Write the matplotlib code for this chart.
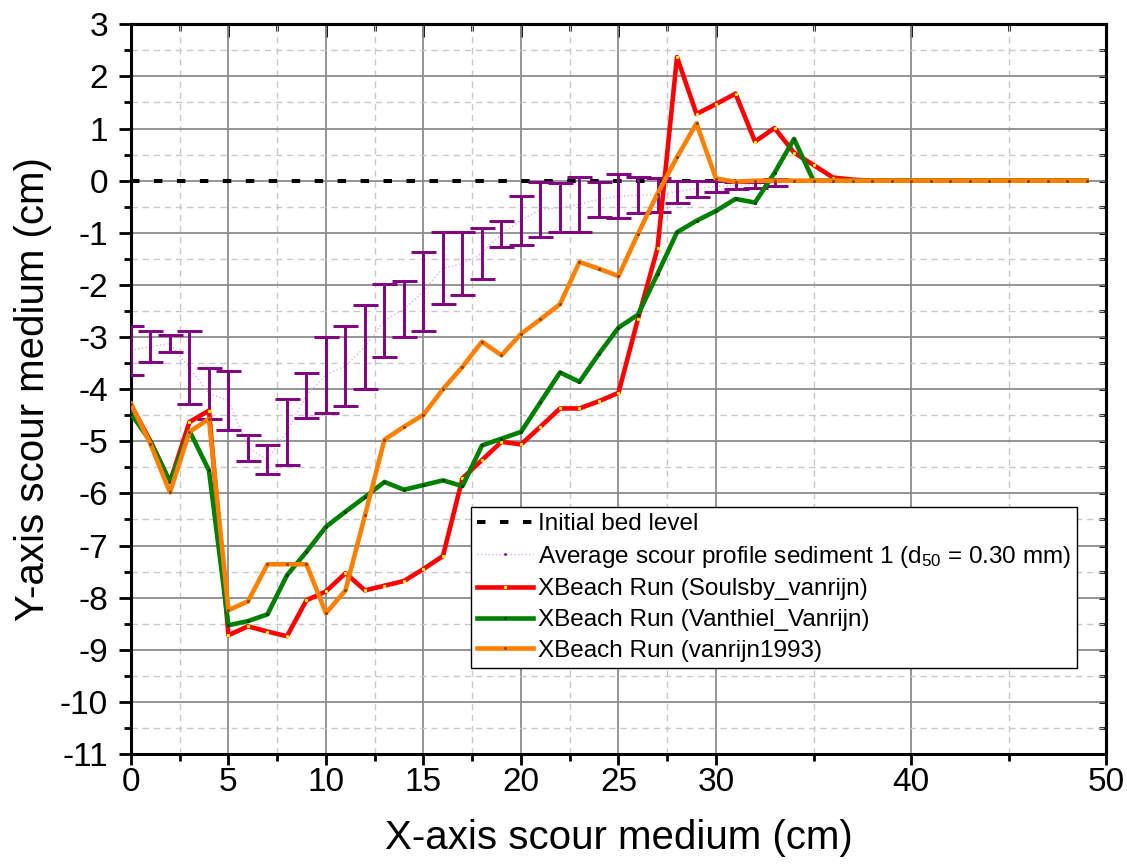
import matplotlib
matplotlib.use("Agg")
import matplotlib.pyplot as plt
from matplotlib.ticker import FixedLocator, MultipleLocator

plt.rcParams["font.family"] = ["Liberation Sans", "DejaVu Sans"]
plt.rcParams["mathtext.fontset"] = "custom"
plt.rcParams["mathtext.rm"] = "Liberation Sans"
plt.rcParams["mathtext.it"] = "Liberation Sans:italic"
plt.rcParams["axes.unicode_minus"] = False

# model grid (cm)
x_model = list(range(50))
bed_level = [0.0] * 50

soulsby_vanrijn = [-4.30, -5.00, -5.78, -4.63, -4.41, -8.72, -8.55, -8.65, -8.74, -8.05,
                   -7.88, -7.53, -7.86, -7.77, -7.68, -7.45, -7.20, -5.71, -5.36, -5.01,
                   -5.06, -4.72, -4.37, -4.37, -4.23, -4.07, -2.65, -1.30, 2.37, 1.28,
                   1.47, 1.67, 0.75, 1.01, 0.54, 0.30, 0.06, 0.02, 0.0, 0.0,
                   0.0, 0.0, 0.0, 0.0, 0.0, 0.0, 0.0, 0.0, 0.0, 0.0]
vanthiel_vanrijn = [-4.47, -5.00, -5.78, -4.80, -5.56, -8.53, -8.45, -8.32, -7.57, -7.12,
                    -6.64, -6.35, -6.07, -5.78, -5.93, -5.84, -5.75, -5.86, -5.08, -4.95,
                    -4.82, -4.25, -3.68, -3.86, -3.32, -2.82, -2.57, -1.79, -0.99, -0.77,
                    -0.58, -0.35, -0.42, 0.15, 0.80, 0.0, 0.0, 0.0, 0.0, 0.0,
                    0.0, 0.0, 0.0, 0.0, 0.0, 0.0, 0.0, 0.0, 0.0, 0.0]
vanrijn1993 = [-4.28, -5.05, -5.98, -4.82, -4.57, -8.24, -8.07, -7.36, -7.36, -7.36,
               -8.30, -7.86, -6.42, -4.97, -4.72, -4.49, -4.00, -3.57, -3.09, -3.35,
               -2.94, -2.66, -2.37, -1.56, -1.69, -1.83, -1.02, -0.25, 0.45, 1.10,
               0.04, -0.02, 0.0, 0.0, 0.0, 0.0, 0.0, 0.0, 0.0, 0.0,
               0.0, 0.0, 0.0, 0.0, 0.0, 0.0, 0.0, 0.0, 0.0, 0.0]

# measured profile, sediment 1: mean and half spread
x_meas = list(range(34))
meas_avg = [-3.25, -3.185, -3.125, -3.59, -4.085, -4.215, -5.125, -5.35, -4.815, -4.12,
            -3.725, -3.555, -3.19, -2.685, -2.465, -2.125, -1.675, -1.59, -1.395, -1.025,
            -0.76, -0.55, -0.52, -0.45, -0.36, -0.30, -0.275, -0.275, -0.21, -0.155,
            -0.11, -0.09, -0.08, -0.035]
meas_err = [0.47, 0.295, 0.165, 0.70, 0.495, 0.565, 0.255, 0.27, 0.635, 0.43,
            0.735, 0.765, 0.80, 0.695, 0.535, 0.765, 0.685, 0.60, 0.485, 0.255,
            0.47, 0.53, 0.47, 0.53, 0.33, 0.42, 0.345, 0.325, 0.21, 0.155,
            0.11, 0.07, 0.06, 0.065]

x_major = [0, 5, 10, 15, 20, 25, 30, 40, 50]
x_minor = [2.5, 7.5, 12.5, 17.5, 22.5, 27.5, 35, 45]

fig = plt.figure(figsize=(11.27, 8.65), dpi=100)
ax = fig.add_axes([0.1162, 0.1283, 0.8652, 0.8436])

ax.plot(x_model, bed_level, color="black", lw=2.9, ls=(0, (2.1, 3.6)),
        label="Initial bed level", zorder=3)
ax.plot(x_meas, meas_avg, color="#dcb0dc", lw=1.0, ls=":", marker="o", ms=1.0,
        mfc="#800080", mec="#800080", label="Average scour profile sediment 1 (d$_{50}$ = 0.30 mm)",
        zorder=3)
ax.errorbar(x_meas, meas_avg, yerr=meas_err, fmt="none", ecolor="#800080",
            elinewidth=2.1, capsize=9, capthick=2.1, zorder=4)
ax.plot(x_model, soulsby_vanrijn, color="#ff0000", lw=3.3, marker="s", ms=1.2,
        mfc="#ffff00", mec="#ffff00", label="XBeach Run (Soulsby_vanrijn)", zorder=5)
ax.plot(x_model, vanthiel_vanrijn, color="#008000", lw=3.3, marker="s", ms=1.0,
        mfc="#003300", mec="#003300", label="XBeach Run (Vanthiel_Vanrijn)", zorder=6)
ax.plot(x_model, vanrijn1993, color="#ff8000", lw=3.3, marker="s", ms=1.0,
        mfc="#7f4000", mec="#7f4000", label="XBeach Run (vanrijn1993)", zorder=7)

ax.set_xlim(0, 50)
ax.set_ylim(-11, 3)
ax.xaxis.set_major_locator(FixedLocator(x_major))
ax.xaxis.set_minor_locator(FixedLocator(x_minor))
ax.yaxis.set_major_locator(MultipleLocator(1))
ax.yaxis.set_minor_locator(MultipleLocator(0.5))

ax.grid(which="major", color="#8c8c8c", lw=1.3, ls="-", zorder=0)
ax.grid(which="minor", color="#c8c8c8", lw=1.0, ls=(0, (4.5, 3.5)), zorder=0)
ax.set_axisbelow(True)

ax.tick_params(which="major", direction="out", length=9, width=2, labelsize=24)
ax.tick_params(which="minor", direction="out", length=5, width=2)
ax.tick_params(axis="x", which="major", length=8, pad=1)
ax.tick_params(axis="y", which="major", pad=7.5)

# inward ticks on the top and right frame
top = ax.secondary_xaxis("top")
top.xaxis.set_major_locator(FixedLocator(x_major))
top.xaxis.set_minor_locator(FixedLocator(x_minor))
top.tick_params(which="major", direction="in", length=9, width=2, labeltop=False)
top.tick_params(which="minor", direction="in", length=5, width=2)
right = ax.secondary_yaxis("right")
right.yaxis.set_major_locator(MultipleLocator(1))
right.yaxis.set_minor_locator(MultipleLocator(0.5))
right.tick_params(which="both", direction="in", length=5, width=2, labelright=False)
for sec in (top, right):
    for s in sec.spines.values():
        s.set_linewidth(2.2)

for s in ax.spines.values():
    s.set_linewidth(2.2)

ax.set_xlabel("X-axis scour medium (cm)", fontsize=29, labelpad=15.5)
ax.set_ylabel("Y-axis scour medium (cm)", fontsize=29, labelpad=6)

leg = ax.legend(loc="upper left", bbox_to_anchor=(0.349, 0.338), borderaxespad=0,
                fontsize=17.5, frameon=True, fancybox=False, edgecolor="black",
                framealpha=1, handlelength=2.3, handletextpad=0.2,
                labelspacing=0.35, borderpad=0.25)
leg.get_frame().set_linewidth(1.0)

plt.savefig("out.png", dpi=100)
plt.close()
